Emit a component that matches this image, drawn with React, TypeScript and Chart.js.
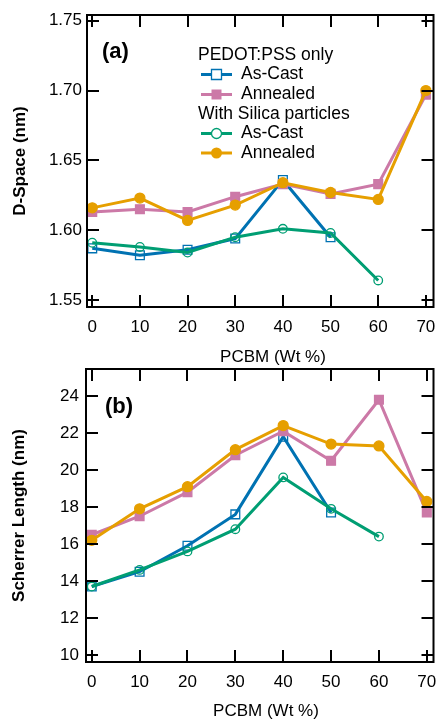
import React, { useEffect, useRef } from "react";
import { Chart, registerables } from "chart.js";
Chart.register(...registerables);

const pcbm = [0, 10, 20, 30, 40, 50, 60, 70];
const xTicks = [0, 10, 20, 30, 40, 50, 60, 70];

const dAsCastPedot = [1.587, 1.582, 1.586, 1.594, 1.636, 1.595];
const dAnnealedPedot = [1.613, 1.615, 1.613, 1.624, 1.633, 1.626, 1.633, 1.697];
const dAsCastSilica = [1.591, 1.588, 1.584, 1.595, 1.601, 1.598, 1.564];
const dAnnealedSilica = [1.616, 1.623, 1.607, 1.618, 1.634, 1.627, 1.622, 1.7];
const dTicks = [1.55, 1.6, 1.65, 1.7, 1.75];

const sAsCastPedot = [13.7, 14.5, 15.9, 17.6, 21.8, 17.7];
const sAnnealedPedot = [16.5, 17.5, 18.8, 20.8, 22.1, 20.5, 23.8, 17.7];
const sAsCastSilica = [13.7, 14.6, 15.6, 16.8, 19.6, 17.9, 16.4];
const sAnnealedSilica = [16.2, 17.9, 19.1, 21.1, 22.4, 21.4, 21.3, 18.3];
const sTicks = [10, 12, 14, 16, 18, 20, 22, 24];

const groupTitles = ["PEDOT:PSS only", "With Silica particles"];
const seriesNames = ["As-Cast", "Annealed"];

const BLUE = "#0072B2";
const PINK = "#CC79A7";
const GREEN = "#009E73";
const ORANGE = "#E69F00";
const FONT = "'Liberation Sans', Arial, Helvetica, sans-serif";

const toXY = (arr: number[]) => arr.map((y, i) => ({ x: pcbm[i], y }));

function datasets(ac: number[], an: number[], sac: number[], san: number[]) {
  const base = { borderWidth: 3, pointBorderWidth: 1.3, pointHoverRadius: 0 };
  return [
    { ...base, label: "Annealed Si", data: toXY(san), borderColor: ORANGE, backgroundColor: ORANGE, pointBackgroundColor: ORANGE, pointBorderColor: ORANGE, pointStyle: "circle", pointRadius: 5, order: 0 },
    { ...base, label: "As-Cast Si", data: toXY(sac), borderColor: GREEN, backgroundColor: GREEN, pointBackgroundColor: "rgba(255,255,255,0)", pointBorderColor: GREEN, pointStyle: "circle", pointRadius: 4.3, order: 1 },
    { ...base, label: "Annealed", data: toXY(an), borderColor: PINK, backgroundColor: PINK, pointBackgroundColor: PINK, pointBorderColor: PINK, pointStyle: "rect", pointRadius: 6.2, order: 2 },
    { ...base, label: "As-Cast", data: toXY(ac), borderColor: BLUE, backgroundColor: BLUE, pointBackgroundColor: "rgba(255,255,255,0)", pointBorderColor: BLUE, pointStyle: "rect", pointRadius: 6.2, order: 3 },
  ];
}

function framePlugin(tickLen: number) {
  return {
    id: "frame",
    afterDatasetsDraw(chart: any) {
      const { ctx, chartArea: a, scales } = chart;
      ctx.save();
      ctx.strokeStyle = "#000";
      ctx.lineWidth = 2;
      ctx.strokeRect(a.left, a.top, a.right - a.left, a.bottom - a.top);
      ctx.beginPath();
      scales.x.ticks.forEach((t: any) => {
        const p = Math.round(scales.x.getPixelForValue(t.value));
        ctx.moveTo(p, a.bottom);
        ctx.lineTo(p, a.bottom - tickLen);
        ctx.moveTo(p, a.top);
        ctx.lineTo(p, a.top + tickLen);
      });
      scales.y.ticks.forEach((t: any) => {
        const p = Math.round(scales.y.getPixelForValue(t.value));
        ctx.moveTo(a.left, p);
        ctx.lineTo(a.left + tickLen, p);
        ctx.moveTo(a.right, p);
        ctx.lineTo(a.right - tickLen, p);
      });
      ctx.stroke();
      ctx.restore();
    },
  };
}

function textPlugin(panel: string, px: number, py: number, xTitle: string, xtx: number, xty: number) {
  return {
    id: "texts",
    afterDraw(chart: any) {
      const { ctx } = chart;
      ctx.save();
      ctx.fillStyle = "#000";
      ctx.textBaseline = "middle";
      ctx.textAlign = "left";
      ctx.font = `bold 22px ${FONT}`;
      ctx.fillText(panel, px, py);
      ctx.textAlign = "center";
      ctx.font = `17px ${FONT}`;
      ctx.fillText(xTitle, xtx, xty);
      ctx.restore();
    },
  };
}

const legendPlugin = {
  id: "customLegend",
  afterDraw(chart: any) {
    const { ctx } = chart;
    const rows = [
      { kind: "title", text: groupTitles[0], y: 55 },
      { kind: "item", text: seriesNames[0], y: 74.5, color: BLUE, marker: "rect", fill: false },
      { kind: "item", text: seriesNames[1], y: 94.5, color: PINK, marker: "rect", fill: true },
      { kind: "title", text: groupTitles[1], y: 114 },
      { kind: "item", text: seriesNames[0], y: 133.5, color: GREEN, marker: "circle", fill: false },
      { kind: "item", text: seriesNames[1], y: 153, color: ORANGE, marker: "circle", fill: true },
    ];
    ctx.save();
    ctx.font = `17.5px ${FONT}`;
    ctx.textBaseline = "middle";
    ctx.textAlign = "left";
    rows.forEach((r: any) => {
      if (r.kind === "title") {
        ctx.fillStyle = "#000";
        ctx.fillText(r.text, 198, r.y);
        return;
      }
      ctx.strokeStyle = r.color;
      ctx.lineWidth = 3;
      ctx.beginPath();
      ctx.moveTo(201, r.y);
      ctx.lineTo(232, r.y);
      ctx.stroke();
      const cx = 216.5;
      ctx.beginPath();
      if (r.marker === "rect") ctx.rect(cx - 5, r.y - 5, 10, 10);
      else ctx.arc(cx, r.y, r.fill ? 5.5 : 5, 0, Math.PI * 2);
      if (r.fill) {
        ctx.fillStyle = r.color;
        ctx.fill();
      } else {
        ctx.fillStyle = "#fff";
        ctx.fill();
        ctx.lineWidth = 1.3;
        ctx.stroke();
      }
      ctx.fillStyle = "#000";
      ctx.fillText(r.text, 241, r.y);
    });
    ctx.restore();
  },
};

function zeroPad(s: any) {
  s.paddingLeft = 0;
  s.paddingRight = 0;
  s.paddingTop = 0;
  s.paddingBottom = 0;
}

function makeConfig(opts: any) {
  const { data, yMin, yMax, xMin, xMax, yTicksArr, yFmt, yTitle, yWidth, xHeight, padding, yPad, plugins, yTitlePad } = opts;
  return {
    type: "line",
    data: { datasets: data },
    options: {
      animation: false,
      responsive: false,
      maintainAspectRatio: false,
      layout: { padding },
      plugins: { legend: { display: false }, tooltip: { enabled: false } },
      elements: { line: { tension: 0 } },
      scales: {
        x: {
          type: "linear",
          min: xMin,
          max: xMax,
          grid: { display: false, drawTicks: false },
          border: { display: false },
          afterBuildTicks: (s: any) => {
            s.ticks = xTicks.map((v) => ({ value: v }));
          },
          afterFit: (s: any) => {
            s.height = xHeight;
            zeroPad(s);
          },
          ticks: { color: "#000", font: { family: FONT, size: 17 }, padding: 10, maxRotation: 0, autoSkip: false },
        },
        y: {
          type: "linear",
          min: yMin,
          max: yMax,
          grid: { display: false, drawTicks: false },
          border: { display: false },
          afterBuildTicks: (s: any) => {
            s.ticks = yTicksArr.map((v: number) => ({ value: v }));
          },
          afterFit: (s: any) => {
            s.width = yWidth;
            zeroPad(s);
          },
          ticks: { color: "#000", font: { family: FONT, size: 17 }, padding: yPad, autoSkip: false, callback: yFmt },
          title: { display: true, text: yTitle, color: "#000", font: { family: FONT, size: 17, weight: "bold" }, padding: { top: yTitlePad, bottom: 0 } },
        },
      },
    },
    plugins,
  };
}

export default function App() {
  const refA = useRef<HTMLCanvasElement>(null);
  const refB = useRef<HTMLCanvasElement>(null);

  useEffect(() => {
    const chartA = new Chart(
      refA.current as HTMLCanvasElement,
      makeConfig({
        data: datasets(dAsCastPedot, dAnnealedPedot, dAsCastSilica, dAnnealedSilica),
        yMin: 1.545,
        yMax: 1.7541,
        xMin: -1.1,
        xMax: 71.6,
        yTicksArr: dTicks,
        yFmt: (v: any) => Number(v).toFixed(2),
        yTitle: "D-Space (nm)",
        yWidth: 87,
        xHeight: 368 - 307,
        padding: { left: 0, right: 4.3, top: 15, bottom: 0 },
        yPad: 5,
        yTitlePad: 10,
        plugins: [framePlugin(12), textPlugin("(a)", 102, 52, "PCBM (Wt %)", 273, 357), legendPlugin],
      }) as any
    );
    const chartB = new Chart(
      refB.current as HTMLCanvasElement,
      makeConfig({
        data: datasets(sAsCastPedot, sAnnealedPedot, sAsCastSilica, sAnnealedSilica),
        yMin: 9.62,
        yMax: 25.46,
        xMin: -1.2,
        xMax: 71.4,
        yTicksArr: sTicks,
        yFmt: (v: any) => String(v),
        yTitle: "Scherrer Length (nm)",
        yWidth: 86,
        xHeight: 362 - 302,
        padding: { left: 0, right: 6.7, top: 9, bottom: 0 },
        yPad: 7,
        yTitlePad: 9,
        plugins: [framePlugin(12), textPlugin("(b)", 105, 47, "PCBM (Wt %)", 266, 351.7)],
      }) as any
    );
    return () => {
      chartA.destroy();
      chartB.destroy();
    };
  }, []);

  return (
    <div style={{ position: "absolute", left: 0, top: 0, width: 441, height: 722, background: "#fff" }}>
      <canvas ref={refA} width={441} height={368} style={{ position: "absolute", left: 0, top: 0, width: 441, height: 368 }} />
      <canvas ref={refB} width={441} height={362} style={{ position: "absolute", left: 0, top: 360, width: 441, height: 362 }} />
    </div>
  );
}
